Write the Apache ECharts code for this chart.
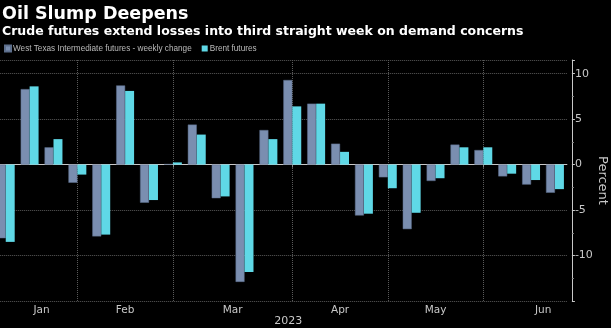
<!DOCTYPE html>
<html><head><meta charset="utf-8">
<script src="https://cdn.jsdelivr.net/npm/echarts@6/dist/echarts.min.js"></script>
<style>html,body{margin:0;padding:0;background:#000;}#c{width:611px;height:328px;}</style>
</head><body><div id="c"></div>
<script>
// Weekly data (week ending Friday), 2023
const weeks = ['2023-01-06','2023-01-13','2023-01-20','2023-01-27','2023-02-03','2023-02-10','2023-02-17','2023-02-24',
  '2023-03-03','2023-03-10','2023-03-17','2023-03-24','2023-03-31','2023-04-07','2023-04-14','2023-04-21','2023-04-28',
  '2023-05-05','2023-05-12','2023-05-19','2023-05-26','2023-06-02','2023-06-09','2023-06-16'];
const wti   = [-8.1, 8.3, 1.9, -2.0, -7.9, 8.7, -4.2, 0.05, 4.4, -3.7, -12.9, 3.8, 9.3, 6.7, 2.3, -5.6, -1.4, -7.1, -1.8, 2.2, 1.6, -1.3, -2.2, -3.1];
const brent = [-8.5, 8.6, 2.8, -1.1, -7.7, 8.1, -3.9, 0.24, 3.3, -3.5, -11.8, 2.8, 6.4, 6.7, 1.4, -5.4, -2.6, -5.3, -1.5, 1.9, 1.9, -1.0, -1.7, -2.7];
const seriesNames = ['West Texas Intermediate futures - weekly change', 'Brent futures'];
// month boundaries (index of last week of month) and month label positions (in week index units)
const monthEndIdx = [3, 7, 12, 16, 20];
const monthNames = ['Jan', 'Feb', 'Mar', 'Apr', 'May', 'Jun'];
const monthLabelPos = [1.5, 5, 9.5, 14, 18, 22.5];
const yearLabel = '2023';
const yMin = -15, yMax = 11.5, yStep = 5;

const chart = echarts.init(document.getElementById('c'), null, {renderer: 'canvas'});
const gridColor = '#5a5a5a';
const axisColor = '#c8c8c8';
chart.setOption({
  backgroundColor: '#000',
  animation: false,
  title: [
    {text: 'Oil Slump Deepens', left: 2, top: 5, padding: 0,
     textStyle: {color: '#fff', fontSize: 17.5, fontWeight: 'bold', fontFamily: 'DejaVu Sans'}},
    {text: 'Crude futures extend losses into third straight week on demand concerns', left: 2, top: 25, padding: 0,
     textStyle: {color: '#fff', fontSize: 12.5, fontWeight: 'bold', fontFamily: 'DejaVu Sans'}}
  ],
  legend: {
    left: 4, top: 44.5, padding: 0, icon: 'rect', itemWidth: 6, itemHeight: 6, itemGap: 10,
    textStyle: {color: '#bbb', fontSize: 8.2, fontFamily: 'Liberation Sans', padding: [0, 0, 0, -3]},
    data: seriesNames
  },
  grid: {left: -6.2, right: 44.1, top: 60, bottom: 27, containLabel: false, outerBoundsMode: 'none'},
  xAxis: {
    type: 'category', data: weeks, boundaryGap: true,
    name: yearLabel, nameLocation: 'middle', nameGap: 15, nameMoveOverlap: false,
    nameTextStyle: {color: axisColor, fontSize: 11, fontFamily: 'DejaVu Sans', padding: [0, 0, 0, 16]},
    axisLine: {show: true, lineStyle: {color: axisColor, width: 1}},
    axisTick: {show: true, alignWithLabel: true, length: 3, lineStyle: {color: '#888'},
      interval: (i) => monthEndIdx.indexOf(i) >= 0},
    splitLine: {show: true, alignWithLabel: true, lineStyle: {color: gridColor, type: 'dotted'},
      interval: (i) => monthEndIdx.indexOf(i) >= 0},
    axisLabel: {
      interval: 0, color: axisColor, fontSize: 10.5, fontFamily: 'DejaVu Sans', margin: 4, hideOverlap: false,
      formatter: (v, i) => {
        for (let k = 0; k < monthLabelPos.length; k++) {
          const p = monthLabelPos[k];
          if (Math.floor(p) === i) return p % 1 ? '{h|' + monthNames[k] + '}' : monthNames[k];
        }
        return '';
      },
      rich: {h: {padding: [0, 0, 0, 24], color: axisColor, fontSize: 10.5, fontFamily: 'DejaVu Sans'}}
    }
  },
  yAxis: {
    type: 'value', position: 'right', offset: 5, min: yMin, max: yMax, interval: yStep,
    name: 'Percent', nameLocation: 'middle', nameGap: 24, nameRotate: -90, nameMoveOverlap: false,
    nameTextStyle: {color: axisColor, fontSize: 13, fontFamily: 'DejaVu Sans'},
    axisLine: {show: true, lineStyle: {color: axisColor}},
    axisTick: {show: true, length: 3, lineStyle: {color: axisColor}},
    minorTick: {show: true, splitNumber: 2, length: 2, lineStyle: {color: '#888'}},
    splitLine: {show: true, lineStyle: {color: gridColor, type: 'dotted'}},
    axisLabel: {color: axisColor, fontSize: 11, fontFamily: 'DejaVu Sans', margin: 3, hideOverlap: false,
      formatter: (v) => (v % yStep !== 0 || v === yMin) ? '' : String(v)}
  },
  series: [
    {name: seriesNames[0], type: 'bar', data: wti, barGap: '0%', barCategoryGap: '25%',
     itemStyle: {color: '#7a8eb0', borderColor: '#5d6f8c', borderWidth: 0.5}},
    {name: seriesNames[1], type: 'bar', data: brent, barGap: '0%', barCategoryGap: '25%',
     itemStyle: {color: '#5fd8e6'}}
  ]
});
</script></body></html>
